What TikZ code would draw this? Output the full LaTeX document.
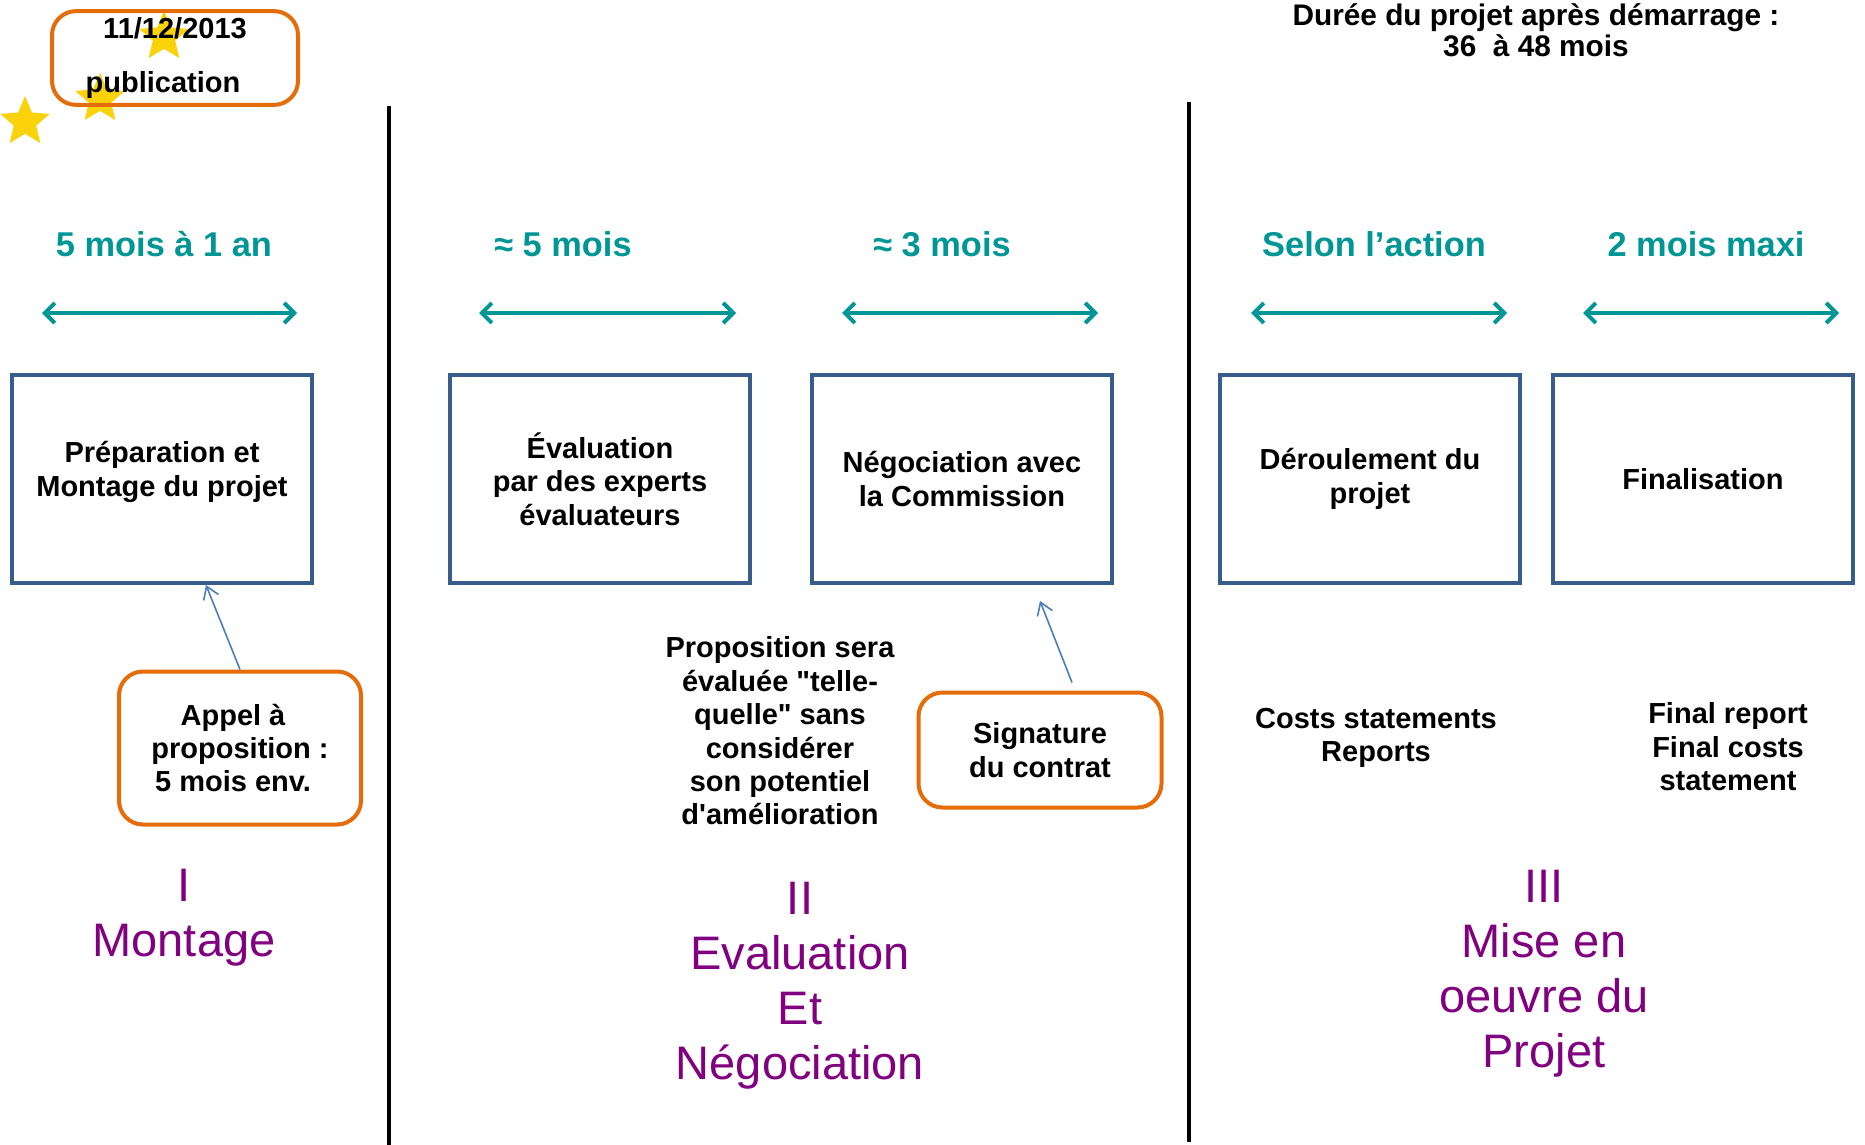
\documentclass[tikz,border=0pt]{standalone}
\usepackage{fontspec}
\setmainfont{Liberation Sans}[Ligatures=TeXOff]
\usetikzlibrary{arrows.meta,shapes.geometric}
\definecolor{bleuCadre}{RGB}{56,93,138}
\definecolor{orangeCadre}{RGB}{228,108,10}
\definecolor{sarcelle}{RGB}{0,150,150}
\definecolor{violetPhase}{RGB}{128,0,128}
\definecolor{flecheBleue}{RGB}{74,126,187}
\definecolor{jauneEtoile}{RGB}{250,210,10}

\begin{document}
\begin{tikzpicture}[x=0.5pt,y=-0.5pt,
    etape/.style={draw=bleuCadre,line width=2pt,minimum width=150pt,minimum height=104pt,
      align=center,font=\bfseries\fontsize{14.5}{16.7}\selectfont},
    bulle/.style={draw=orangeCadre,line width=2pt,rounded corners=12pt,align=center,
      font=\bfseries\fontsize{14.5}{16.7}\selectfont},
    texte/.style={align=center,font=\bfseries\fontsize{14.5}{16.7}\selectfont},
    duree/.style={text=sarcelle,font=\bfseries\fontsize{17.2}{20}\selectfont},
    fleche duree/.style={draw=sarcelle,line width=2pt,
      {Straight Barb[length=5pt,width=10pt]}-{Straight Barb[length=5pt,width=10pt]}},
    phase/.style={text=violetPhase,align=center,font=\fontsize{23.5}{27.5}\selectfont},
    lien/.style={draw=flecheBleue,line width=0.8pt,-{Straight Barb[length=6pt,width=8pt]}},
    etoile/.style={star,star points=5,star point ratio=2.2,fill=jauneEtoile,
      minimum size=26pt,inner sep=0pt}]
    \useasboundingbox (0,0) rectangle (1865,1145);

    % publication
    \node[etoile] (e1) at (25,122) {};
    \node[etoile] (e2) at (100,99) {};
    \node[etoile] (e3) at (164,37) {};
    \node[bulle,minimum width=123pt,minimum height=46.5pt] (date) at (175,58)
      {11/12/2013\\[10pt]publication\hspace*{12pt}};
    \node[texte,font=\bfseries\fontsize{14.9}{15.5}\selectfont] (titre) at (1536,30)
      {Durée du projet après démarrage :\\36\ \ à 48 mois};

    % durees
    \node[duree] (d1) at (164,244) {5 mois à 1 an};
    \node[duree] (d2) at (563,244) {≈ 5 mois};
    \node[duree] (d3) at (942,244) {≈ 3 mois};
    \node[duree] (d4) at (1374,244) {Selon l’action};
    \node[duree] (d5) at (1706,244) {2 mois maxi};
    \foreach \a/\b in {42/297,479/736,842/1098,1251/1507,1583/1839}
      \draw[fleche duree] (\a,313) -- (\b,313);

    % separations
    \draw[line width=2pt] (389,106) -- (389,1145);
    \draw[line width=2pt] (1189,102) -- (1189,1142);

    % etapes
    \node[etape,text depth=10pt] (prep) at (162,479) {Préparation et\\Montage du projet};
    \node[etape] (eval) at (600,479) {Évaluation\\par des experts\\évaluateurs};
    \node[etape] (nego) at (962,479) {Négociation avec\\la Commission};
    \node[etape] (deroul) at (1370,479) {Déroulement du\\projet};
    \node[etape] (final) at (1703,479) {Finalisation};

    \node[bulle,minimum width=121pt,minimum height=76.5pt] (appel) at (240,748)
      {Appel à\hspace*{7pt}\\proposition :\hspace*{7pt}\\5 mois env.\hspace*{7pt}};
    \node[bulle,minimum width=121.5pt,minimum height=57.5pt] (sig) at (1040,750)
      {Signature\\du contrat};
    \node[texte] (propo) at (780,731)
      {Proposition sera\\évaluée "telle-\\quelle" sans\\considérer\\son potentiel\\d'amélioration};
    \node[texte] (couts) at (1376,738) {Costs statements\\Reports};
    \node[texte] (rapport) at (1728,747) {Final report\\Final costs\\statement};

    \draw[lien] (appel.north) -- ([xshift=22pt]prep.south);
    \draw[lien] ([xshift=16pt,yshift=4pt]sig.north) -- ([xshift=39pt,yshift=-8pt]nego.south);

    % phases
    \node[phase] (ph1) at (184,918) {I\\Montage};
    \node[phase] (ph2) at (800,986) {II\\Evaluation\\Et\\Négociation};
    \node[phase] (ph3) at (1544,974) {III\\Mise en\\oeuvre du\\Projet};
\end{tikzpicture}
\end{document}
